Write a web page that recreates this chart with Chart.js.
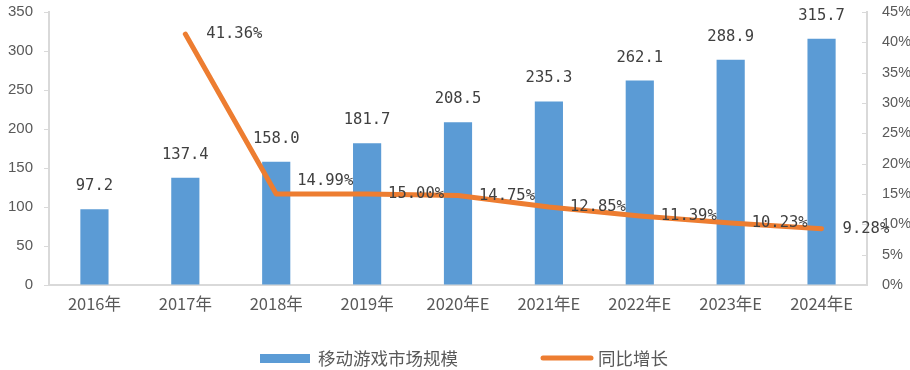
<!DOCTYPE html>
<html><head><meta charset="utf-8">
<script src="https://cdn.jsdelivr.net/npm/chart.js@4/dist/chart.umd.min.js"></script>
<style>html,body{margin:0;padding:0;background:#fff}#wrap{width:910px;height:370px}</style>
</head><body><div id="wrap"><canvas id="c" width="910" height="370"></canvas></div>
<script>
const categories = ['2016年','2017年','2018年','2019年','2020年E','2021年E','2022年E','2023年E','2024年E'];
const marketSize = [97.2,137.4,158.0,181.7,208.5,235.3,262.1,288.9,315.7];
const growthRate = [null,41.36,14.99,15.00,14.75,12.85,11.39,10.23,9.28];
const leftTicks = [0,50,100,150,200,250,300,350];
const rightTicks = [0,5,10,15,20,25,30,35,40,45];
const seriesNames = ['移动游戏市场规模','同比增长'];

const BLUE = '#5B9BD5', ORANGE = '#ED7D31';
const labelFont = '15.5px "DejaVu Sans Mono", monospace';

const labelPlugin = {
  id: 'labels',
  afterDatasetsDraw(chart) {
    const ctx = chart.ctx;
    ctx.save();
    ctx.font = labelFont;
    ctx.fillStyle = '#404040';
    const barMeta = chart.getDatasetMeta(0);
    ctx.textAlign = 'center'; ctx.textBaseline = 'middle';
    barMeta.data.forEach((el, i) => {
      ctx.fillText(marketSize[i].toFixed(1), el.x, el.y - 23);
    });
    const lineMeta = chart.getDatasetMeta(1);
    ctx.textAlign = 'left';
    lineMeta.data.forEach((el, i) => {
      const v = growthRate[i];
      if (v === null || v === undefined) return;
      const dy = (i === 2) ? -13 : 0;
      ctx.fillText(v.toFixed(2) + '%', el.x + 21, el.y + dy);
    });
    ctx.restore();
  },
  afterDraw(chart) {
    const ctx = chart.ctx;
    ctx.save();
    const y1 = chart.scales.y1;
    ctx.strokeStyle = '#d9d9d9'; ctx.lineWidth = 1;
    y1.ticks.forEach(t => {
      const yy = Math.round(y1.getPixelForValue(t.value)) + 0.5;
      ctx.beginPath(); ctx.moveTo(y1.left - 5, yy); ctx.lineTo(y1.left, yy); ctx.stroke();
    });
    const ly = 358;
    ctx.fillStyle = chart.data.datasets[0].backgroundColor;
    ctx.fillRect(260, ly - 4, 50, 9);
    ctx.font = '17.5px "Noto Sans CJK SC", sans-serif';
    ctx.fillStyle = '#595959';
    ctx.textAlign = 'left'; ctx.textBaseline = 'middle';
    ctx.fillText(chart.data.datasets[0].label, 318, ly);
    ctx.strokeStyle = chart.data.datasets[1].borderColor;
    ctx.lineWidth = 5; ctx.lineCap = 'round';
    ctx.beginPath(); ctx.moveTo(543, ly); ctx.lineTo(591, ly); ctx.stroke();
    ctx.fillText(chart.data.datasets[1].label, 598, ly);
    ctx.restore();
  }
};

new Chart(document.getElementById('c'), {
  data: {
    labels: categories,
    datasets: [
      { type: 'bar', label: seriesNames[0], data: marketSize, backgroundColor: BLUE, yAxisID: 'y',
        barPercentage: 0.62, categoryPercentage: 0.5, order: 2 },
      { type: 'line', label: seriesNames[1], data: growthRate, borderColor: ORANGE, backgroundColor: ORANGE,
        borderWidth: 5, pointRadius: 0, borderCapStyle: 'round', borderJoinStyle: 'round', tension: 0,
        yAxisID: 'y1', order: 1 }
    ]
  },
  options: {
    responsive: false, animation: false,
    layout: { padding: { top: 12, bottom: 50, left: 0, right: 0 } },
    plugins: { legend: { display: false }, tooltip: { enabled: false } },
    scales: {
      x: {
        offset: true,
        grid: { display: false, drawTicks: false },
        border: { color: '#d9d9d9', width: 2 },
        ticks: { color: '#595959', font: { family: '"Noto Sans CJK SC", sans-serif', size: 16.5 }, padding: 9, maxRotation: 0 },
        afterFit(s) { s.height = 35; s.paddingLeft = 0; s.paddingRight = 0; }
      },
      y: {
        position: 'left', min: 0, max: 350,
        afterBuildTicks(s) { s.ticks = leftTicks.map(v => ({ value: v })); },
        grid: { drawOnChartArea: false, drawTicks: true, tickLength: 5, color: '#d9d9d9' },
        border: { color: '#d9d9d9', width: 2 },
        ticks: { color: '#595959', font: { family: '"Liberation Sans", Arial, sans-serif', size: 15 }, padding: 11 },
        afterFit(s) { s.width = 49; s.paddingTop = 0; s.paddingBottom = 0; }
      },
      y1: {
        position: 'right', min: 0, max: 45,
        afterBuildTicks(s) { s.ticks = rightTicks.map(v => ({ value: v })); },
        grid: { drawOnChartArea: false, drawTicks: false },
        border: { color: '#d9d9d9', width: 2 },
        ticks: { color: '#595959', font: { family: '"Liberation Sans", Arial, sans-serif', size: 14.5 }, padding: 15,
          callback: v => v + '%' },
        afterFit(s) { s.width = 43; s.paddingTop = 0; s.paddingBottom = 0; }
      }
    }
  },
  plugins: [labelPlugin]
});
</script></body></html>
